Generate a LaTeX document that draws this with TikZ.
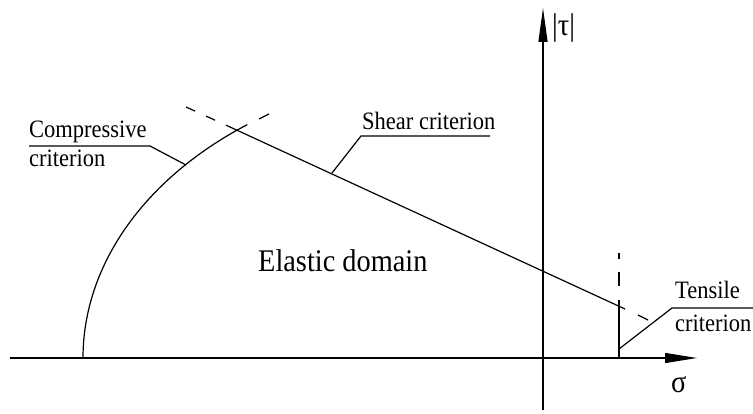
\documentclass[tikz,border=0pt]{standalone}
\usepackage{fontspec}
\usepackage{graphicx}
\setmainfont{Liberation Serif}
\usetikzlibrary{arrows.meta}
\newcommand{\narrowtxt}[1]{\scalebox{0.9}[1]{#1}}
\tikzset{
  ln/.style={line width=1.2pt},
  dsh/.style={line width=1.2pt, dash pattern=on 10pt off 12pt},
  lbl/.style={inner sep=0pt, anchor=base west, font=\fontsize{25}{30}\selectfont},
  big/.style={inner sep=0pt, anchor=base west, font=\fontsize{31.5}{36}\selectfont},
}
\begin{document}
\begin{tikzpicture}[x=1pt,y=-1pt]
\useasboundingbox (0,0) rectangle (753,414);
% axes
\coordinate (sx0) at (10,358);
\coordinate (sx1) at (697,358);
\coordinate (ty0) at (543,410);
\coordinate (ty1) at (543,8);
\draw[ln,-{Triangle[length=32pt,width=10pt]}] (sx0) -- (sx1);
\draw[ln,-{Triangle[length=34pt,width=9pt]}] (ty0) -- (ty1);
\node[big] (tau) at (552,36) {\narrowtxt{|τ|}};
\node[big] (sig) at (671,392) {\narrowtxt{σ}};
% compressive criterion curve (elliptic arc)
\coordinate (cb) at (83,358);
\draw[ln] (cb) arc[start angle=180, end angle=234.4, x radius=393, y radius=287];
\coordinate (c1) at (259,119);
\coordinate (c2) at (269,114);
\draw[ln] (c1) -- (c2);
% shear criterion
\coordinate (s0) at (186,107);
\coordinate (s1) at (230,127);
\coordinate (s2) at (625,309);
\coordinate (s3) at (638,315);
\coordinate (s4) at (648,320);
\draw[dsh] (s0) -- (s1);
\draw[ln] (s1) -- (s2);
\draw[ln] (s3) -- (s4);
% tensile criterion
\coordinate (t0) at (619,358);
\coordinate (t1) at (619,300);
\coordinate (t2) at (619,253);
\coordinate (t3) at (619,259);
\coordinate (t4) at (619,272);
\coordinate (t5) at (619,286);
\draw[ln] (t0) -- (t1);
\draw[ln] (t2) -- (t3);
\draw[ln] (t4) -- (t5);
% leaders
\coordinate (lc0) at (186,165);
\coordinate (lc1) at (150,146);
\coordinate (lc2) at (29,146);
\draw[ln] (lc0) -- (lc1) -- (lc2);
\coordinate (ls0) at (332,173);
\coordinate (ls1) at (361,136);
\coordinate (ls2) at (490,136);
\draw[ln] (ls0) -- (ls1) -- (ls2);
\coordinate (lt0) at (619,349);
\coordinate (lt1) at (672,308);
\coordinate (lt2) at (753,308);
\draw[ln] (lt0) -- (lt1) -- (lt2);
% labels
\node[lbl] (comp1) at (29,138) {\narrowtxt{Compressive}};
\node[lbl] (comp2) at (29,167) {\narrowtxt{criterion}};
\node[lbl] (shear) at (362,130) {\narrowtxt{Shear criterion}};
\node[lbl] (tens1) at (675,299) {\narrowtxt{Tensile}};
\node[lbl] (tens2) at (675,332) {\narrowtxt{criterion}};
\node[big] (elast) at (258,272) {\narrowtxt{Elastic domain}};
\end{tikzpicture}
\end{document}
